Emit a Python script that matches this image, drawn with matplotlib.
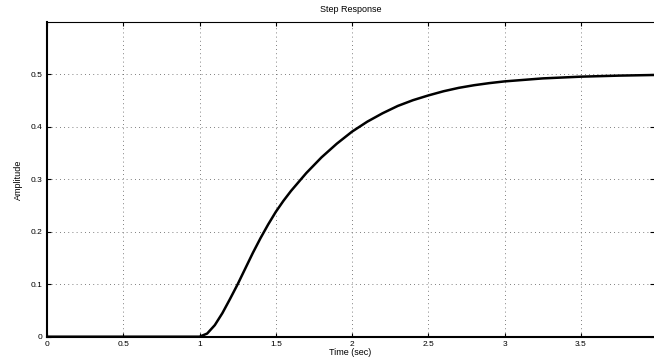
import matplotlib.pyplot as plt

# step response
time = [0.0, 1.0, 1.05, 1.1, 1.15, 1.2, 1.25, 1.3, 1.35, 1.4, 1.45, 1.5, 1.55,
        1.6, 1.7, 1.8, 1.9, 2.0, 2.1, 2.2, 2.3, 2.4, 2.5, 2.6, 2.7, 2.8, 2.9,
        3.0, 3.25, 3.5, 3.75, 3.98]
amp = [0.0, 0.0, 0.006, 0.022, 0.045, 0.072, 0.1, 0.13, 0.16, 0.188, 0.214,
       0.238, 0.259, 0.278, 0.312, 0.342, 0.368, 0.391, 0.41, 0.426, 0.44,
       0.451, 0.46, 0.468, 0.4745, 0.4795, 0.4835, 0.4868, 0.4925, 0.4958,
       0.4978, 0.499]
xticks = [0, 0.5, 1, 1.5, 2, 2.5, 3, 3.5]
xlabels = ['0', '0.5', '1', '1.5', '2', '2.5', '3', '3.5']
yticks = [0, 0.1, 0.2, 0.3, 0.4, 0.5]
ylabels = ['0', '0.1', '0.2', '0.3', '0.4', '0.5']

plt.rcParams['font.family'] = ['Liberation Sans', 'DejaVu Sans']

fig = plt.figure(figsize=(6.54, 3.61), dpi=100)
ax = fig.add_axes([0.0719, 0.0673, 0.9281, 0.8717])

ax.plot(time, amp, color='black', linewidth=1.8, solid_capstyle='butt',
        solid_joinstyle='round')

ax.set_xlim(0, 3.98)
ax.set_ylim(0, 0.6)
ax.set_xticks(xticks)
ax.set_xticklabels(xlabels)
ax.set_yticks(yticks)
ax.set_yticklabels(ylabels)

ax.grid(True, linestyle=(0, (1, 4)), color='#555555', linewidth=0.6)
ax.tick_params(direction='in', length=3, width=0.8, labelsize=6, pad=3,
               top=True, right=True)

for s in ['left', 'bottom']:
    ax.spines[s].set_linewidth(1.5)
ax.spines['top'].set_linewidth(0.8)
ax.spines['right'].set_visible(False)

ax.set_title('Step Response', fontsize=6.5, pad=7)
ax.set_xlabel('Time (sec)', fontsize=6.5, labelpad=0)
ax.set_ylabel('Amplitude', fontsize=6.5, labelpad=6)

fig.savefig('out.png', dpi=100)
